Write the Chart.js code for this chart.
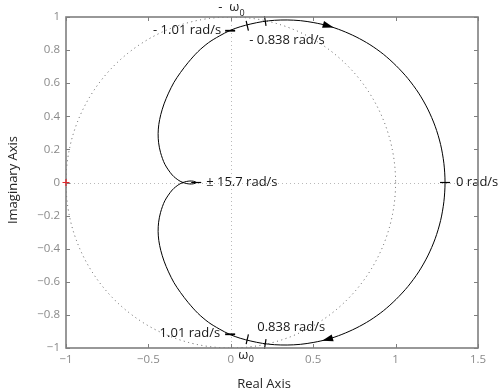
<!DOCTYPE html>
<html><head><meta charset="utf-8">
<script src="https://cdn.jsdelivr.net/npm/chart.js@4.4.0/dist/chart.umd.min.js"></script>
<style>html,body{margin:0;padding:0;background:#fff;overflow:hidden}#wrap{width:501px;height:392px;position:relative}</style>
</head><body><div id="wrap"><canvas id="c" width="501" height="392"></canvas></div>
<script>
// Nyquist curve, negative-frequency branch (w = -15.7 ... 0 rad/s)
const negRe = [-0.210, -0.215, -0.228, -0.248, -0.270, -0.290, -0.315, -0.355, -0.400, -0.426, -0.438, -0.441, -0.437, -0.425, -0.405, -0.378, -0.345, -0.305, -0.258, -0.200, -0.135, -0.070, -0.004, 0.057, 0.122, 0.192, 0.265, 0.342, 0.422, 0.504, 0.589, 0.674, 0.760, 0.844, 0.926, 1.003, 1.075, 1.140, 1.195, 1.240, 1.273, 1.293, 1.300];
const negIm = [0.000, -0.004, -0.008, -0.009, -0.006, 0.000, 0.012, 0.045, 0.110, 0.180, 0.240, 0.295, 0.350, 0.410, 0.475, 0.540, 0.605, 0.665, 0.726, 0.790, 0.845, 0.885, 0.919, 0.941, 0.958, 0.972, 0.980, 0.982, 0.978, 0.966, 0.947, 0.918, 0.880, 0.833, 0.775, 0.706, 0.628, 0.540, 0.444, 0.340, 0.230, 0.116, 0.000];
// positive-frequency branch (w = 0 ... 15.7 rad/s)
const posRe = [1.300, 1.293, 1.273, 1.240, 1.195, 1.140, 1.075, 1.003, 0.926, 0.844, 0.760, 0.674, 0.589, 0.504, 0.422, 0.342, 0.265, 0.192, 0.122, 0.057, -0.004, -0.070, -0.135, -0.200, -0.258, -0.305, -0.345, -0.378, -0.405, -0.425, -0.437, -0.441, -0.438, -0.426, -0.400, -0.355, -0.315, -0.290, -0.270, -0.248, -0.228, -0.215, -0.210];
const posIm = [0.000, -0.116, -0.230, -0.340, -0.444, -0.540, -0.628, -0.706, -0.775, -0.833, -0.880, -0.918, -0.947, -0.966, -0.978, -0.982, -0.980, -0.972, -0.958, -0.941, -0.919, -0.885, -0.845, -0.790, -0.726, -0.665, -0.605, -0.540, -0.475, -0.410, -0.350, -0.295, -0.240, -0.180, -0.110, -0.045, -0.012, 0.000, 0.006, 0.009, 0.008, 0.004, 0.000];
// frequency marks on the curve
const markText = ['0 rad/s', '0.838 rad/s', '\u03c9', '1.01 rad/s', '\u00b1 15.7 rad/s', '- 0.838 rad/s', '-  \u03c9', '- 1.01 rad/s'];
const markRe = [1.300, 0.209, 0.100, -0.004, -0.210, 0.209, 0.100, -0.004];
const markIm = [0.000, -0.976, -0.947, -0.917, 0.000, 0.976, 0.947, 0.917];
// direction arrows
const arrowRe = [0.575, 0.625];
const arrowIm = [0.955, -0.935];
// critical point
const critRe = [-1];
const critIm = [0];
// axis ticks
const xTicks = [-1, -0.5, 0, 0.5, 1, 1.5];
const yTicks = [-1, -0.8, -0.6, -0.4, -0.2, 0, 0.2, 0.4, 0.6, 0.8, 1];
const xTitle = 'Real Axis';
const yTitle = 'Imaginary Axis';

const curve = negRe.map((v, i) => ({x: v, y: negIm[i]}))
  .concat(posRe.slice(1).map((v, i) => ({x: v, y: posIm[i + 1]})));

// label placement (pixel offsets from the mark, style only)
const labelStyle = [
  {dx: 11, dy: 0, align: 'left'},
  {dx: -8, dy: -17, align: 'left'},
  {dx: 1, dy: 16, align: 'right', sub: {dx: 1.5, dy: 20}},
  {dx: -10, dy: -1, align: 'right'},
  {dx: 10, dy: 0, align: 'left'},
  {dx: -16, dy: 19.5, align: 'left'},
  {dx: -8, dy: -18, align: 'right', sub: {dx: -7.8, dy: -12}},
  {dx: -9, dy: 0, align: 'right'}
];
const markKind = ['perp', 'perp', 'perp', 'dash', 'perp', 'perp', 'perp', 'dash'];

const FONT = '"Open Sans", sans-serif';
const fmt = v => String(v).replace('-', '\u2212');

function curvePx(chart) {
  const {x, y} = chart.scales;
  return curve.map(p => [x.getPixelForValue(p.x), y.getPixelForValue(p.y)]);
}
function nearest(pts, px, py) {
  let bi = 0, bd = 1e9;
  pts.forEach((p, i) => { const d = (p[0]-px)**2 + (p[1]-py)**2; if (d < bd) { bd = d; bi = i; } });
  return bi;
}
function tangent(pts, i) {
  const n = pts.length;
  let a, b;
  if (i === 0 || i === n - 1) { a = pts[n - 2]; b = pts[1]; }
  else { a = pts[i - 1]; b = pts[i + 1]; }
  let tx = b[0] - a[0], ty = b[1] - a[1];
  const L = Math.hypot(tx, ty) || 1;
  return [tx / L, ty / L];
}

const deco = {
  id: 'deco',
  beforeDatasetsDraw(chart) {
    const {ctx, chartArea: a, scales: {x, y}} = chart;
    ctx.save();
    ctx.beginPath(); ctx.rect(a.left, a.top, a.right - a.left, a.bottom - a.top); ctx.clip();
    const x0 = x.getPixelForValue(0), y0 = y.getPixelForValue(0);
    ctx.strokeStyle = '#b9b9b9'; ctx.lineWidth = 1; ctx.setLineDash([1, 3]);
    ctx.beginPath();
    ctx.moveTo(a.left, Math.round(y0) + 0.5); ctx.lineTo(a.right, Math.round(y0) + 0.5);
    ctx.moveTo(Math.round(x0) + 0.5, a.top); ctx.lineTo(Math.round(x0) + 0.5, a.bottom);
    ctx.stroke();
    ctx.strokeStyle = '#555'; ctx.setLineDash([1, 3.5]);
    const rx = x.getPixelForValue(1) - x0, ry = y0 - y.getPixelForValue(1);
    ctx.beginPath(); ctx.ellipse(x0, y0, rx, ry, 0, 0, 2 * Math.PI); ctx.stroke();
    ctx.restore();
  },
  afterDatasetsDraw(chart) {
    const {ctx, scales: {x, y}} = chart;
    const pts = curvePx(chart);
    ctx.save();
    // marks
    ctx.strokeStyle = '#000';
    markRe.forEach((re, k) => {
      const px = x.getPixelForValue(re), py = y.getPixelForValue(markIm[k]);
      ctx.beginPath();
      if (markKind[k] === 'dash') {
        ctx.lineWidth = 1.8;
        ctx.moveTo(px - 5, py); ctx.lineTo(px + 5, py);
      } else {
        ctx.lineWidth = 1.2;
        const t = tangent(pts, nearest(pts, px, py));
        const nx = -t[1], ny = t[0];
        ctx.moveTo(px - nx * 5, py - ny * 5); ctx.lineTo(px + nx * 5, py + ny * 5);
      }
      ctx.stroke();
      // labels
      const s = labelStyle[k];
      ctx.fillStyle = '#161616';
      ctx.font = '13px ' + FONT;
      ctx.textAlign = s.align; ctx.textBaseline = 'middle';
      ctx.fillText(markText[k], px + s.dx, py + s.dy);
      if (s.sub) {
        ctx.font = '9px ' + FONT; ctx.textAlign = 'left';
        ctx.fillText('0', px + s.sub.dx, py + s.sub.dy);
      }
    });
    // arrows
    ctx.fillStyle = '#000';
    arrowRe.forEach((re, k) => {
      const px = x.getPixelForValue(re), py = y.getPixelForValue(arrowIm[k]);
      const i = nearest(pts, px, py);
      const t = tangent(pts, i);
      const cx = pts[i][0], cy = pts[i][1];
      const nx = -t[1], ny = t[0];
      ctx.beginPath();
      ctx.moveTo(cx + t[0] * 6, cy + t[1] * 6);
      ctx.lineTo(cx - t[0] * 5 + nx * 3.6, cy - t[1] * 5 + ny * 3.6);
      ctx.lineTo(cx - t[0] * 5 - nx * 3.6, cy - t[1] * 5 - ny * 3.6);
      ctx.closePath(); ctx.fill();
    });
    ctx.restore();
  },
  afterDraw(chart) {
    const {ctx, chartArea: a, scales: {x, y}} = chart;
    ctx.save();
    ctx.strokeStyle = '#7f7f7f'; ctx.lineWidth = 1.6;
    ctx.strokeRect(a.left, a.top, a.right - a.left, a.bottom - a.top);
    ctx.lineWidth = 1;
    ctx.beginPath();
    x.ticks.forEach(t => {
      const p = Math.round(x.getPixelForValue(t.value)) + 0.5;
      ctx.moveTo(p, a.bottom); ctx.lineTo(p, a.bottom - 4);
      ctx.moveTo(p, a.top); ctx.lineTo(p, a.top + 4);
    });
    y.ticks.forEach(t => {
      const p = Math.round(y.getPixelForValue(t.value)) + 0.5;
      ctx.moveTo(a.left, p); ctx.lineTo(a.left + 4, p);
      ctx.moveTo(a.right, p); ctx.lineTo(a.right - 4, p);
    });
    ctx.stroke();
    // critical point
    const cx = x.getPixelForValue(critRe[0]), cy = y.getPixelForValue(critIm[0]);
    ctx.strokeStyle = '#e3262b'; ctx.lineWidth = 1.2;
    ctx.beginPath();
    ctx.moveTo(cx - 3.5, cy); ctx.lineTo(cx + 3.5, cy);
    ctx.moveTo(cx, cy - 3.5); ctx.lineTo(cx, cy + 3.5);
    ctx.stroke();
    // titles
    ctx.fillStyle = '#262626'; ctx.font = '13px ' + FONT;
    ctx.textAlign = 'center'; ctx.textBaseline = 'middle';
    ctx.fillText(xTitle, 264, 384);
    ctx.translate(13, 180); ctx.rotate(-Math.PI / 2);
    ctx.fillText(yTitle, 0, 0);
    ctx.restore();
  }
};

Chart.defaults.font.family = FONT;
new Chart(document.getElementById('c'), {
  type: 'scatter',
  data: {
    datasets: [{
      data: curve, showLine: true, borderColor: '#000', borderWidth: 1,
      pointRadius: 0, tension: 0.3, fill: false
    }]
  },
  options: {
    responsive: false, animation: false, devicePixelRatio: 1,
    layout: {padding: {left: 0, right: 23, top: 17, bottom: 0}},
    plugins: {legend: {display: false}, tooltip: {enabled: false}},
    scales: {
      x: {
        type: 'linear', min: -1, max: 1.5,
        afterBuildTicks: s => { s.ticks = xTicks.map(v => ({value: v})); },
        afterFit: s => { s.height = 44; },
        grid: {display: false, drawTicks: false}, border: {display: false},
        ticks: {color: '#8a8a8a', font: {size: 11.5}, padding: 5, maxRotation: 0, autoSkip: false, callback: v => fmt(v)}
      },
      y: {
        type: 'linear', min: -1, max: 1,
        afterBuildTicks: s => { s.ticks = yTicks.map(v => ({value: v})); },
        afterFit: s => { s.width = 66; },
        grid: {display: false, drawTicks: false}, border: {display: false},
        ticks: {color: '#8a8a8a', font: {size: 11.5}, padding: 6, autoSkip: false, callback: v => fmt(v)}
      }
    }
  },
  plugins: [deco]
});
</script>
</body></html>
